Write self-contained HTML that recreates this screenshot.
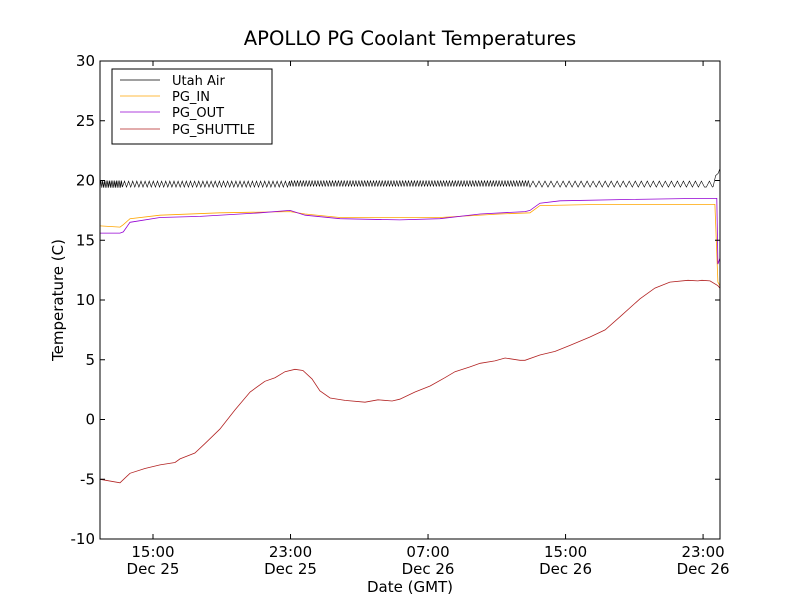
<!DOCTYPE html>
<html><head><meta charset="utf-8"><style>
body{margin:0;background:#fff;}
svg text{font-family:"DejaVu Sans","Liberation Sans",sans-serif;fill:#000;}
</style></head><body>
<svg id="chart" width="800" height="600" xmlns="http://www.w3.org/2000/svg">
<rect width="800" height="600" fill="#fff"/>
<text x="410" y="45" font-size="19.6" text-anchor="middle">APOLLO PG Coolant Temperatures</text>
<text x="410" y="592" font-size="15" text-anchor="middle">Date (GMT)</text>
<text transform="translate(63,300) rotate(-90)" font-size="15" text-anchor="middle">Temperature (C)</text>
<g id="plot"></g>
<rect x="100" y="61" width="620" height="478" fill="none" stroke="#000" stroke-width="1"/>
<g id="axes"></g>
<g>
<rect x="112" y="69" width="160" height="75" fill="#fff" stroke="#000"/>
<line x1="120" y1="80" x2="160" y2="80" stroke="#000" stroke-width="0.7"/><text x="172" y="85" font-size="13">Utah Air</text>
<line x1="120" y1="96" x2="160" y2="96" stroke="#ffa500" stroke-width="0.7"/><text x="172" y="101" font-size="13">PG_IN</text>
<line x1="120" y1="112" x2="160" y2="112" stroke="#9400d3" stroke-width="0.7"/><text x="172" y="117" font-size="13">PG_OUT</text>
<line x1="120" y1="129" x2="160" y2="129" stroke="#b22222" stroke-width="0.7"/><text x="172" y="134" font-size="13">PG_SHUTTLE</text>
</g>
</svg>
<script>
// hours since Dec 25 00:00 GMT
const shuttleT=[11.92,13.08,13.66,14.53,15.41,16.28,16.57,17.44,18.03,18.89,19.77,20.65,21.51,22.1,22.68,23.26,23.72,24.25,24.71,25.3,26.17,27.33,28.09,28.91,29.36,30.24,31.12,31.98,32.57,33.44,34.03,34.89,35.48,36.35,36.64,37.51,38.39,39.26,40.42,41.3,42.17,43.33,44.2,45.07,46.12,46.7,46.93,47.4,47.86,47.98];
const shuttleV=[-5.0,-5.3,-4.5,-4.1,-3.8,-3.6,-3.3,-2.8,-2.0,-0.8,0.8,2.3,3.2,3.5,4.0,4.2,4.1,3.4,2.4,1.8,1.6,1.45,1.65,1.55,1.7,2.3,2.8,3.5,4.0,4.4,4.7,4.9,5.15,4.95,4.95,5.4,5.7,6.2,6.9,7.5,8.6,10.1,11.0,11.5,11.65,11.6,11.65,11.6,11.2,11.0];
const outT=[11.92,13.08,13.27,13.66,15.41,17.74,21.23,22.97,23.85,25.88,29.36,31.69,34.03,36.64,36.93,37.51,38.68,42.17,46.82,47.8,47.86,47.98];
const outV=[15.6,15.6,15.7,16.5,16.9,17.0,17.3,17.5,17.1,16.8,16.7,16.8,17.2,17.4,17.5,18.1,18.3,18.4,18.5,18.5,13.0,13.5];
const inT=[11.92,13.08,13.27,13.66,15.41,18.89,22.97,23.85,25.88,31.69,35.18,36.93,37.51,41.01,47.69,47.86,47.98];
const inV=[16.2,16.1,16.3,16.8,17.1,17.3,17.4,17.2,16.9,16.9,17.2,17.3,17.9,18.0,18.0,11.5,11.2];
// Utah Air: oscillation segments
const airStart=[11.92,13.22,22.98,36.93,47.19];
const airEnd=[13.22,22.98,36.93,47.19,47.59];
const airCenter=[19.7,19.7,19.75,19.7,19.7];
const airAmp=[0.3,0.25,0.25,0.25,0.25];
const airPeriod=[0.1,0.24,0.17,0.35,0.35];
const airTailT=[47.59,47.73,47.88,47.98];
const airTailV=[19.5,20.4,20.6,21.0];
const yTicks=[-10,-5,0,5,10,15,20,25,30];
const xTickH=[15,23,31,39,47];
const xTickTime=["15:00","23:00","07:00","15:00","23:00"];
const xTickDate=["Dec 25","Dec 25","Dec 26","Dec 26","Dec 26"];

const X=h=>153+(h-15)*17.19;
const Y=v=>419.5-v*11.95;
const NS="http://www.w3.org/2000/svg";
const plot=document.getElementById('plot'),axes=document.getElementById('axes');
function poly(T,V,color,name,w){
  const p=document.createElementNS(NS,'polyline');
  p.setAttribute('points',T.map((t,i)=>X(t).toFixed(1)+','+Y(V[i]).toFixed(1)).join(' '));
  p.setAttribute('fill','none');p.setAttribute('stroke',color);p.setAttribute('stroke-width',w);
  
  
  plot.appendChild(p);
}
const aT=[],aV=[];
for(let s=0;s<airStart.length;s++){
  let k=0;
  for(let t=airStart[s];t<airEnd[s];t+=airPeriod[s]/2){aT.push(t);aV.push(airCenter[s]+(k%2?airAmp[s]:-airAmp[s]));k++;}
}
airTailT.forEach((t,i)=>{aT.push(t);aV.push(airTailV[i]);});
poly(aT,aV,'#000','series-utah-air','0.6');
poly(inT,inV,'#ffa500','series-pg-in','0.8');
poly(outT,outV,'#9400d3','series-pg-out','0.8');
poly(shuttleT,shuttleV,'#b22222','series-pg-shuttle','0.8');
yTicks.forEach(v=>{
  const y=Y(v);
  const l=document.createElementNS(NS,'path');
  l.setAttribute('d',`M100 ${y}h5M720 ${y}h-5`);l.setAttribute('stroke','#000');
  
  
  axes.appendChild(l);
  const t=document.createElementNS(NS,'text');
  t.setAttribute('x',95);t.setAttribute('y',y+5);t.setAttribute('font-size','15');t.setAttribute('text-anchor','end');
  t.textContent=v;
  
  
  axes.appendChild(t);
});
xTickH.forEach((h,i)=>{
  const x=X(h);
  const l=document.createElementNS(NS,'path');
  l.setAttribute('d',`M${x} 539v-5M${x} 61v5`);l.setAttribute('stroke','#000');
  
  
  axes.appendChild(l);
  [[xTickTime[i],557],[xTickDate[i],574]].forEach(([s,y])=>{
    const t=document.createElementNS(NS,'text');
    t.setAttribute('x',x);t.setAttribute('y',y);t.setAttribute('font-size','15');t.setAttribute('text-anchor','middle');
    t.textContent=s;
    
    
    axes.appendChild(t);
  });
});
</script>
</body></html>
